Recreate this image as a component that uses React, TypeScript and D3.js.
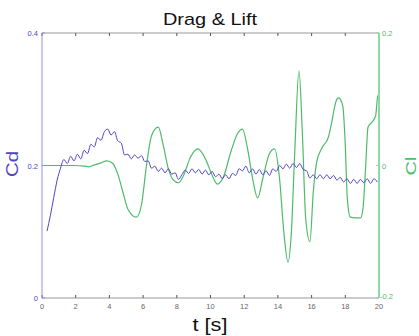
import React from "react";
import * as d3 from "d3";

const W = 419;
const H = 336;

const xTicks = [0, 2, 4, 6, 8, 10, 12, 14, 16, 18, 20];
const cdTicks = [0, 0.2, 0.4];
const clTicks = [-0.2, 0, 0.2];
const cdTickLabels = ["0", "0.2", "0.4"];
const clTickLabels = ["-0.2", "0", "0.2"];

// Cd samples every 0.2 s starting at 0.3 s
const cdStart = 0.3;
const cdStep = 0.2;
const cdValues = [
  0.101, 0.125, 0.152, 0.178, 0.196, 0.209, 0.203, 0.214, 0.207, 0.217,
  0.21, 0.223, 0.218, 0.232, 0.228, 0.242, 0.238, 0.251, 0.255, 0.246,
  0.251, 0.237, 0.234, 0.216, 0.217, 0.21, 0.216, 0.211, 0.215, 0.206,
  0.207, 0.196, 0.199, 0.191, 0.196, 0.189, 0.195, 0.187, 0.189, 0.179,
  0.186, 0.193, 0.188, 0.195, 0.189, 0.194, 0.187, 0.193, 0.186, 0.191,
  0.183, 0.187, 0.18, 0.186, 0.18, 0.188, 0.185, 0.195, 0.192, 0.199,
  0.189, 0.195, 0.187, 0.194, 0.186, 0.192, 0.185, 0.195, 0.191, 0.2,
  0.195, 0.202, 0.196, 0.203, 0.197, 0.203, 0.194, 0.192, 0.181, 0.186,
  0.18, 0.186, 0.18, 0.186, 0.18, 0.185, 0.178, 0.182, 0.175, 0.18,
  0.173, 0.179, 0.173, 0.179, 0.174, 0.18, 0.173, 0.18, 0.175,
];
const cdTimes = cdValues.map((_, i) => cdStart + i * cdStep);

const clTimes = [
  0, 0.5, 1.0, 1.5, 2.0, 2.5, 2.8, 3.0, 3.5, 3.85, 4.2, 4.5, 4.8, 5.1, 5.6,
  5.9, 6.2, 6.5, 6.9, 7.2, 7.5, 7.8, 8.1, 8.4, 8.8, 9.25, 9.7, 10.1, 10.4,
  10.8, 11.2, 11.6, 11.9, 12.2, 12.5, 12.8, 13.1, 13.5, 13.8, 14.1, 14.35,
  14.6, 14.8, 15.0, 15.25, 15.45, 15.65, 15.9, 16.1, 16.3, 16.6, 17.0, 17.2,
  17.45, 17.6, 17.85, 18.0, 18.12, 18.3, 18.6, 18.9, 19.05, 19.2, 19.35,
  19.6, 19.8, 19.9, 20.0,
];
const clValues = [
  0, 0, 0, 0, 0, -0.001, -0.002, 0, 0.004, 0.007, 0.003, -0.013, -0.04,
  -0.066, -0.078, -0.06, 0, 0.045, 0.058, 0.03, -0.005, -0.022, -0.026,
  -0.015, 0.012, 0.025, 0.01, -0.015, -0.028, -0.015, 0.02, 0.048, 0.055,
  0.025, -0.02, -0.049, -0.02, 0.018, 0.025, -0.02, -0.1, -0.146, -0.1, 0.02,
  0.143, 0.05, -0.08, -0.115, -0.04, 0.005, 0.026, 0.043, 0.066, 0.097,
  0.102, 0.09, 0.03, -0.05, -0.078, -0.079, -0.079, -0.065, -0.005, 0.058,
  0.066, 0.075, 0.1, 0.11,
];

const BLUE = "#4f46c4";
const GREEN = "#4dbb6a";
const BLUE_AX = "#9090e4";
const GREEN_AX = "#8fd8a8";

export default function App() {
  const x = d3.scaleLinear().domain([0, 20]).range([42, 379]);
  const yL = d3.scaleLinear().domain([0, 0.4]).range([298, 33]);
  const yR = d3.scaleLinear().domain([-0.2, 0.2]).range([298, 33]);

  const cdLine = d3
    .line<number>()
    .x((_, i) => x(cdTimes[i]))
    .y((d) => yL(d))
    .curve(d3.curveMonotoneX);
  const clLine = d3
    .line<number>()
    .x((_, i) => x(clTimes[i]))
    .y((d) => yR(d))
    .curve(d3.curveMonotoneX);

  const [x0, x1] = x.range();
  const yTop = yL(0.4);
  const yBot = yL(0);

  return (
    <svg
      width={W}
      height={H}
      style={{ position: "absolute", left: 0, top: 0, background: "#fff" }}
      fontFamily="Liberation Sans, Arial, sans-serif"
    >
      {/* title */}
      <text x={210} y={25} fontSize={17} textAnchor="middle" fill="#111" textLength={94} lengthAdjust="spacingAndGlyphs">
        Drag &amp; Lift
      </text>

      {/* frame top/bottom */}
      <line x1={x0} x2={x1} y1={yTop} y2={yTop} stroke="#999" strokeWidth={1} />
      <line x1={x0} x2={x1} y1={yBot} y2={yBot} stroke="#999" strokeWidth={1} />

      {/* x ticks */}
      {xTicks.map((t) => (
        <g key={t}>
          <line x1={x(t)} x2={x(t)} y1={yBot} y2={yBot - 3} stroke="#555" />
          <line x1={x(t)} x2={x(t)} y1={yTop} y2={yTop + 3} stroke="#555" />
          <text x={x(t)} y={309} fontSize={7.5} textAnchor="middle" fill="#666">
            {t}
          </text>
        </g>
      ))}

      {/* lines */}
      <path d={clLine(clValues) || ""} fill="none" stroke={GREEN} strokeWidth={1.2} />
      <path d={cdLine(cdValues) || ""} fill="none" stroke={BLUE} strokeWidth={1} />

      {/* left axis */}
      <line x1={x0} x2={x0} y1={yTop} y2={yBot} stroke={BLUE_AX} strokeWidth={1} />
      {cdTicks.map((v, i) => (
        <g key={v}>
          <line x1={x0} x2={x0 + 3} y1={yL(v)} y2={yL(v)} stroke={BLUE_AX} />
          <text x={x0 - 4} y={yL(v) + 3} fontSize={7.5} textAnchor="end" fill={BLUE}>
            {cdTickLabels[i]}
          </text>
        </g>
      ))}

      {/* right axis */}
      <line x1={x1} x2={x1} y1={yTop} y2={yBot} stroke={GREEN_AX} strokeWidth={2} />
      {clTicks.map((v, i) => (
        <g key={v}>
          <line x1={x1 - 3} x2={x1} y1={yR(v)} y2={yR(v)} stroke={GREEN_AX} />
          <text x={v < 0 ? x1 + 1 : x1 + 3} y={yR(v) + (v < 0 ? 1 : 3)} fontSize={7.5} textAnchor="start" fill={GREEN}>
            {clTickLabels[i]}
          </text>
        </g>
      ))}

      {/* axis titles */}
      <text
        transform={`translate(18,164) rotate(-90)`}
        fontSize={16}
        textAnchor="middle"
        fill={BLUE}
        textLength={26}
        lengthAdjust="spacingAndGlyphs"
      >
        Cd
      </text>
      <text
        transform={`translate(416,166) rotate(-90)`}
        fontSize={15}
        textAnchor="middle"
        fill={GREEN}
        textLength={19}
        lengthAdjust="spacingAndGlyphs"
      >
        Cl
      </text>
      <text x={210} y={331} fontSize={19} textAnchor="middle" fill="#111" textLength={35} lengthAdjust="spacingAndGlyphs">
        t [s]
      </text>
    </svg>
  );
}
